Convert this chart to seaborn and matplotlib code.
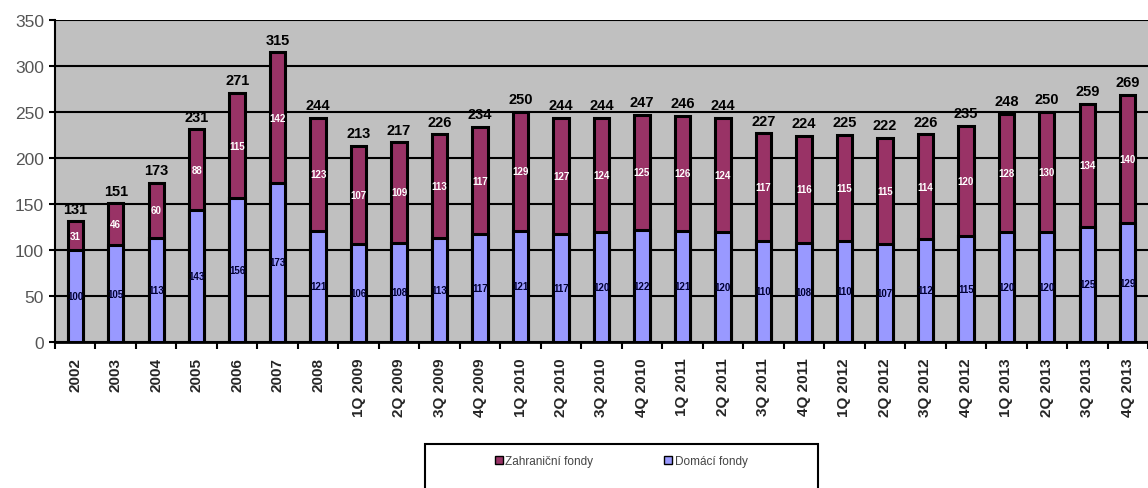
import matplotlib
matplotlib.use("Agg")
import matplotlib.pyplot as plt
from matplotlib.patches import Patch, Rectangle
import numpy as np
import pandas as pd
import seaborn as sns

# hodnoty
obdobi = ["2002", "2003", "2004", "2005", "2006", "2007", "2008",
          "1Q 2009", "2Q 2009", "3Q 2009", "4Q 2009",
          "1Q 2010", "2Q 2010", "3Q 2010", "4Q 2010",
          "1Q 2011", "2Q 2011", "3Q 2011", "4Q 2011",
          "1Q 2012", "2Q 2012", "3Q 2012", "4Q 2012",
          "1Q 2013", "2Q 2013", "3Q 2013", "4Q 2013"]
domaci = [100, 105, 113, 143, 156, 173, 121,
          106, 108, 113, 117,
          121, 117, 120, 122,
          121, 120, 110, 108,
          110, 107, 112, 115,
          120, 120, 125, 129]
zahranicni = [31, 46, 60, 88, 115, 142, 123,
              107, 109, 113, 117,
              129, 127, 124, 125,
              126, 124, 117, 116,
              115, 115, 114, 120,
              128, 130, 134, 140]
celkem = [131, 151, 173, 231, 271, 315, 244,
          213, 217, 226, 234,
          250, 244, 244, 247,
          246, 244, 227, 224,
          225, 222, 226, 235,
          248, 250, 259, 269]

BARVA_ZAHR = "#993366"
BARVA_DOM = "#9999FF"

sns.set_theme(style="white")
plt.rcParams['font.family'] = ['Liberation Sans', 'DejaVu Sans']

df = pd.DataFrame({"obdobi": obdobi, "domaci": domaci,
                   "zahranicni": zahranicni, "celkem": celkem})

fig = plt.figure(figsize=(11.48, 4.89), dpi=100)
ax = fig.add_axes([55 / 1148, 146 / 489, 1093 / 1148, 322 / 489])
ax.set_facecolor("#C0C0C0")

# celkový sloupec (zahraniční část nahoře), přes něj domácí fondy
sns.barplot(data=df, x="obdobi", y="celkem", color=BARVA_ZAHR, saturation=1,
            width=0.38, edgecolor="black", linewidth=2.2, ax=ax)
sns.barplot(data=df, x="obdobi", y="domaci", color=BARVA_DOM, saturation=1,
            width=0.38, edgecolor="black", linewidth=2.2, ax=ax)

for i in range(len(obdobi)):
    ax.text(i, domaci[i] / 2, str(domaci[i]), ha="center", va="center",
            fontsize=7, fontweight="bold", color="#000033", zorder=5)
    ax.text(i, domaci[i] + zahranicni[i] / 2, str(zahranicni[i]), ha="center",
            va="center", fontsize=7, fontweight="bold", color="white", zorder=5)
    ax.annotate(str(celkem[i]), (i, celkem[i]), xytext=(0, 4),
                textcoords="offset points", ha="center", va="bottom",
                fontsize=10.5, fontweight="bold", color="black")

ax.set_ylim(0, 350)
ax.set_xlim(-0.5, 26.42)
ax.set_yticks(range(0, 351, 50))
ax.yaxis.grid(True, color="black", linewidth=1.5)
ax.set_axisbelow(True)
ax.set_xlabel("")
ax.set_ylabel("")

for s in ["top", "right"]:
    ax.spines[s].set_visible(False)
ax.spines["left"].set_color("black")
ax.spines["left"].set_linewidth(1.5)
ax.spines["bottom"].set_color("black")
ax.spines["bottom"].set_linewidth(2)

ax.set_xticks(np.arange(-0.5, len(obdobi), 1), minor=True)
ax.tick_params(axis="x", which="major", length=0, pad=11, labelsize=11,
               labelrotation=90)
ax.tick_params(axis="x", which="minor", bottom=True, length=5, width=1.5,
               color="black", direction="out")
ax.tick_params(axis="y", left=True, length=4, width=1.5, color="black",
               labelsize=12.5, labelcolor="#555555", pad=4)
for lab in ax.get_xticklabels():
    lab.set_fontweight("bold")

# legenda dole v rámečku
fig.add_artist(Rectangle((425 / 1148, -0.05), (818 - 425) / 1148,
                         (489 - 445) / 489 + 0.05, transform=fig.transFigure,
                         fill=False, edgecolor="black", linewidth=1.5))
handles = [Patch(facecolor=BARVA_ZAHR, edgecolor="black"),
           Patch(facecolor=BARVA_DOM, edgecolor="black")]
fig.legend(handles, ["Zahraniční fondy", "Domácí fondy"], loc="center",
           bbox_to_anchor=(621 / 1148, 27 / 489), ncol=2, frameon=False,
           fontsize=8.5, handlelength=0.7, handleheight=0.7,
           columnspacing=6, handletextpad=0.2, labelcolor="#444444")

fig.savefig("out.png", dpi=100)
